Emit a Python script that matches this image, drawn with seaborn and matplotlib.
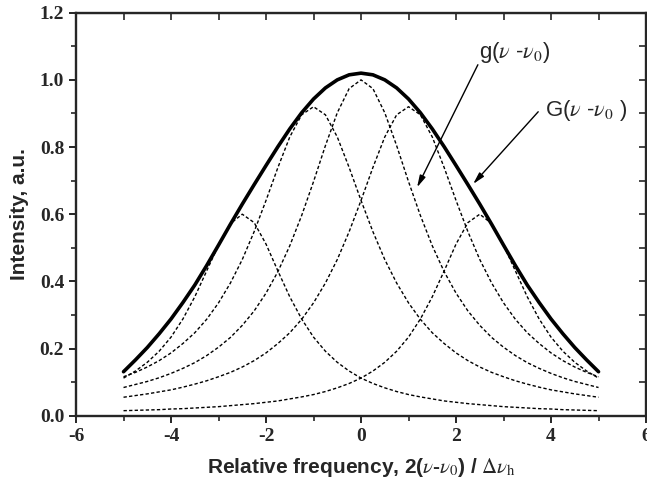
import matplotlib
matplotlib.use("Agg")
import matplotlib.pyplot as plt
from matplotlib.ticker import MultipleLocator, FormatStrFormatter
import pandas as pd
import seaborn as sns

sns.set_style("ticks")
plt.rcParams['font.family'] = ['Liberation Sans', 'DejaVu Sans']
plt.rcParams['mathtext.fontset'] = 'stix'
plt.rcParams['axes.unicode_minus'] = False

# relative frequency grid
freq = [-5.0, -4.75, -4.5, -4.25, -4.0, -3.75, -3.5, -3.25, -3.0, -2.75,
        -2.5, -2.25, -2.0, -1.75, -1.5, -1.25, -1.0, -0.75, -0.5, -0.25,
        0.0, 0.25, 0.5, 0.75, 1.0, 1.25, 1.5, 1.75, 2.0, 2.25,
        2.5, 2.75, 3.0, 3.25, 3.5, 3.75, 4.0, 4.25, 4.5, 4.75, 5.0]

# homogeneous packets g(v - v0), dashed
g_m25 = [0.112, 0.133, 0.159, 0.192, 0.234, 0.288, 0.354, 0.431, 0.508, 0.572,
         0.600, 0.575, 0.511, 0.431, 0.354, 0.288, 0.234, 0.192, 0.159, 0.133,
         0.112, 0.096, 0.083, 0.072, 0.063, 0.056, 0.050, 0.044, 0.040, 0.036,
         0.033, 0.030, 0.027, 0.025, 0.023, 0.021, 0.020, 0.018, 0.017, 0.016, 0.015]
g_m1 = [0.116, 0.129, 0.145, 0.164, 0.187, 0.215, 0.247, 0.287, 0.336, 0.395,
        0.465, 0.548, 0.641, 0.739, 0.830, 0.896, 0.920, 0.896, 0.830, 0.739,
        0.641, 0.548, 0.465, 0.395, 0.336, 0.287, 0.247, 0.215, 0.187, 0.164,
        0.145, 0.129, 0.116, 0.104, 0.094, 0.085, 0.077, 0.071, 0.065, 0.060, 0.055]
g_0 = [0.084, 0.093, 0.102, 0.113, 0.126, 0.141, 0.158, 0.179, 0.204, 0.233,
       0.269, 0.312, 0.365, 0.429, 0.506, 0.596, 0.697, 0.804, 0.902, 0.974,
       1.000, 0.974, 0.902, 0.804, 0.697, 0.596, 0.506, 0.429, 0.365, 0.312,
       0.269, 0.233, 0.204, 0.179, 0.158, 0.141, 0.126, 0.113, 0.102, 0.093, 0.084]
g_p1 = [0.055, 0.060, 0.065, 0.071, 0.077, 0.085, 0.094, 0.104, 0.116, 0.129,
        0.145, 0.164, 0.187, 0.215, 0.247, 0.287, 0.336, 0.395, 0.465, 0.548,
        0.641, 0.739, 0.830, 0.896, 0.920, 0.896, 0.830, 0.739, 0.641, 0.548,
        0.465, 0.395, 0.336, 0.287, 0.247, 0.215, 0.187, 0.164, 0.145, 0.129, 0.116]
g_p25 = [0.015, 0.016, 0.017, 0.018, 0.020, 0.021, 0.023, 0.025, 0.027, 0.030,
         0.033, 0.036, 0.040, 0.044, 0.050, 0.056, 0.063, 0.072, 0.083, 0.096,
         0.112, 0.133, 0.159, 0.192, 0.234, 0.288, 0.354, 0.431, 0.511, 0.575,
         0.600, 0.572, 0.508, 0.431, 0.354, 0.288, 0.234, 0.192, 0.159, 0.133, 0.112]

# inhomogeneous envelope G(v - v0), thick solid
G_env = [0.131, 0.166, 0.203, 0.244, 0.288, 0.337, 0.389, 0.447, 0.508, 0.570,
         0.630, 0.688, 0.745, 0.801, 0.854, 0.902, 0.943, 0.976, 1.000, 1.015,
         1.020, 1.015, 1.000, 0.976, 0.943, 0.902, 0.854, 0.801, 0.745, 0.688,
         0.630, 0.570, 0.508, 0.447, 0.389, 0.337, 0.288, 0.244, 0.203, 0.166, 0.131]

packets = {'-2.5': g_m25, '-1': g_m1, '0': g_0, '1': g_p1, '2.5': g_p25}

fig = plt.figure(figsize=(6.47, 4.90), dpi=100)
ax = fig.add_axes([0.1175, 0.1516, 0.881, 0.8225])

for name, vals in packets.items():
    df = pd.DataFrame({'freq': freq, 'I': vals})
    sns.lineplot(data=df, x='freq', y='I', ax=ax, color='black', lw=1.0,
                 linestyle=(0, (2.4, 1.6)), sort=False)

df_G = pd.DataFrame({'freq': freq, 'I': G_env})
sns.lineplot(data=df_G, x='freq', y='I', ax=ax, color='black', lw=2.6, sort=False)

ax.set_xlim(-6, 6)
ax.set_ylim(0, 1.2)
ax.xaxis.set_major_locator(MultipleLocator(2))
ax.xaxis.set_minor_locator(MultipleLocator(1))
ax.yaxis.set_major_locator(MultipleLocator(0.2))
ax.yaxis.set_minor_locator(MultipleLocator(0.1))
ax.yaxis.set_major_formatter(FormatStrFormatter('%.1f'))
ax.tick_params(which='major', direction='out', length=5, width=1.4)
ax.tick_params(which='minor', direction='out', length=3.5, width=1.2)
for lab in ax.get_xticklabels() + ax.get_yticklabels():
    lab.set_fontfamily('Liberation Serif')
    lab.set_fontweight('bold')
    lab.set_fontsize(14)
for sp in ax.spines.values():
    sp.set_linewidth(1.7)

top = ax.secondary_xaxis('top')
top.xaxis.set_major_locator(MultipleLocator(1))
top.tick_params(direction='in', length=5, width=1.2, labeltop=False)
right = ax.secondary_yaxis('right')
right.yaxis.set_major_locator(MultipleLocator(0.1))
right.tick_params(direction='in', length=5, width=1.2, labelright=False)

ax.set_xlabel(r'Relative frequency, 2($\nu$-$\nu_0$) / $\Delta\nu_\mathrm{h}$',
              fontsize=15, fontweight='bold', labelpad=8)
ax.set_ylabel('Intensity, a.u.', fontsize=15, fontweight='bold', labelpad=8)

ax.text(3.24, 1.08, r'g($\nu$ -$\nu_0$)', fontsize=16, ha='center', va='center')
ax.text(4.74, 0.91, r'G($\nu$ -$\nu_0$ )', fontsize=16, ha='center', va='center')
arrow = dict(arrowstyle='-|>,head_length=0.7,head_width=0.18', color='black',
             lw=1.0, shrinkA=0, shrinkB=0)
ax.annotate('', xy=(1.18, 0.68), xytext=(2.46, 1.045), arrowprops=arrow)
ax.annotate('', xy=(2.36, 0.69), xytext=(3.73, 0.905), arrowprops=arrow)

fig.savefig('out.png', dpi=100)
